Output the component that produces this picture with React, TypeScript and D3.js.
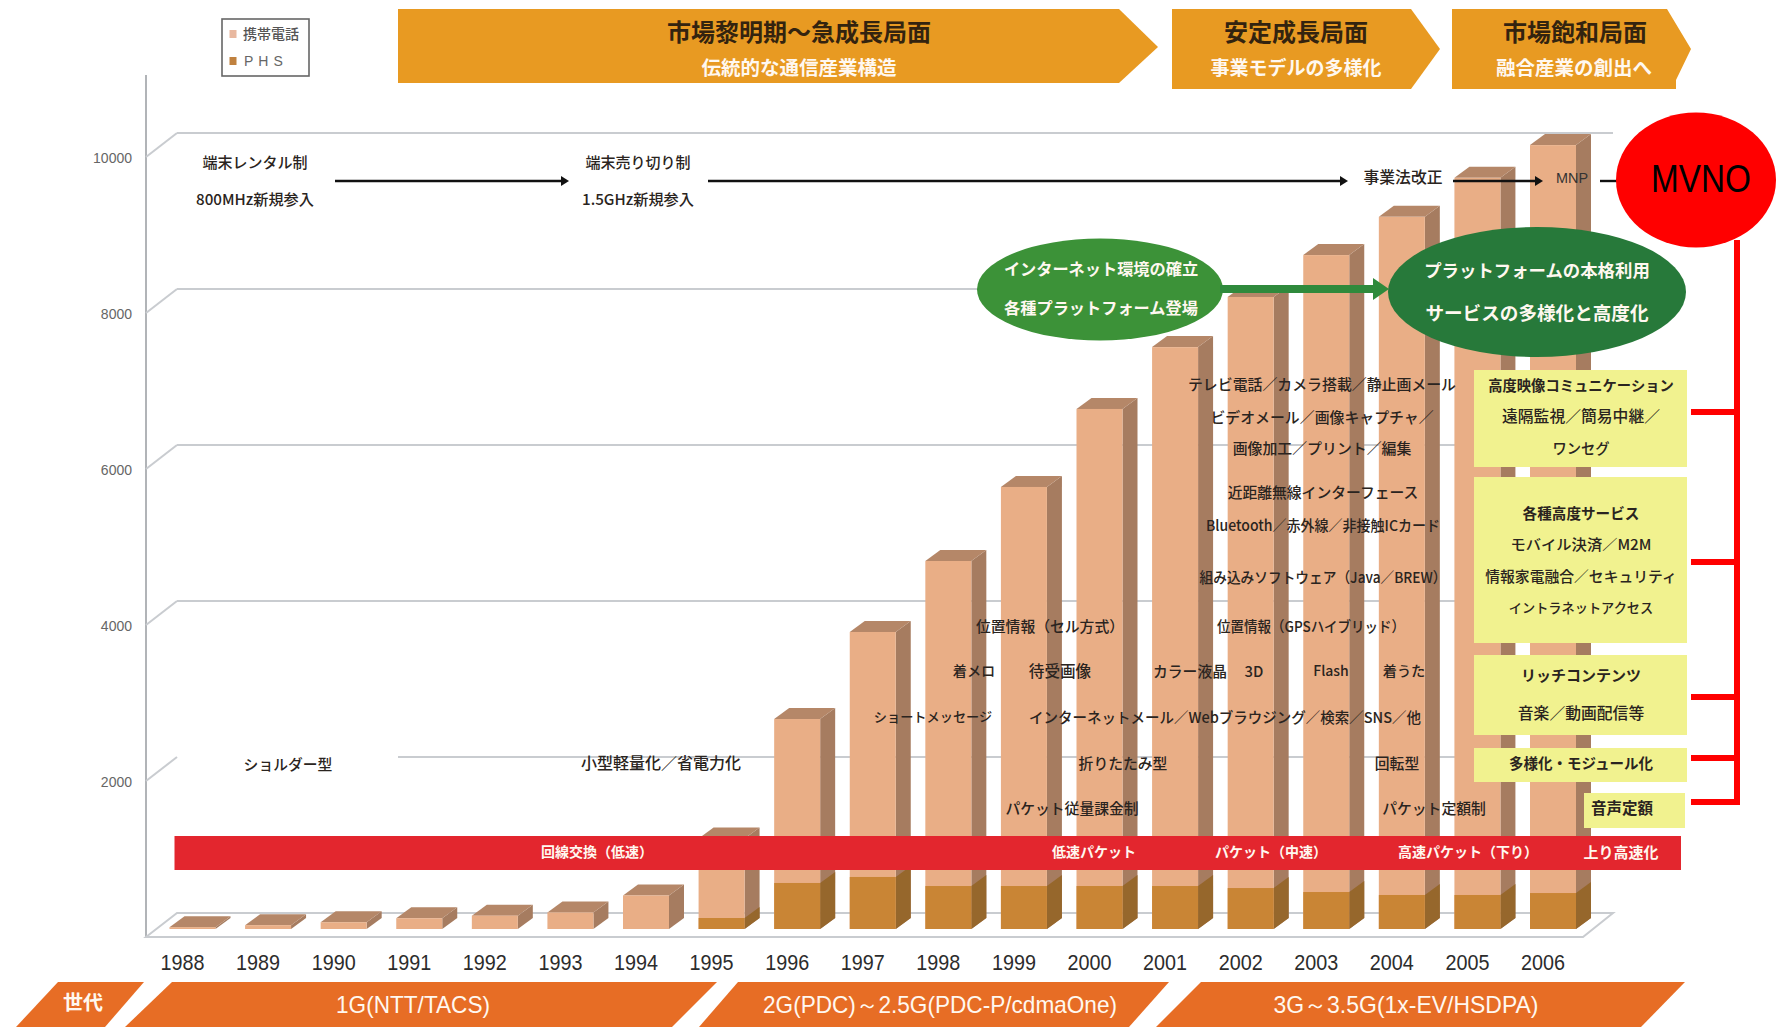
import React from "react";
import * as d3 from "d3";

// Subscribers per fiscal year, in units of 10,000 contracts
const years = [1988, 1989, 1990, 1991, 1992, 1993, 1994, 1995, 1996, 1997, 1998, 1999, 2000, 2001, 2002, 2003, 2004, 2005, 2006];
const mobileSubs = [24, 49, 87, 138, 171, 213, 430, 1160, 2692, 3808, 4718, 5667, 6667, 7460, 8103, 8640, 9130, 9630, 10050];
const phsSubs = [0, 0, 0, 0, 0, 0, 0, 141, 590, 667, 551, 551, 551, 551, 525, 474, 436, 436, 461];
const gridValues = [0, 2000, 4000, 6000, 8000, 10000];
const tickValues = [2000, 4000, 6000, 8000, 10000];

const W = 1776;
const H = 1029;
const JP = "'Noto Sans CJK JP', 'Noto Sans', sans-serif";
const LATIN = "'Liberation Sans', Arial, sans-serif";

// Oblique projection used for the 3D plot box and the bars
const floorFrontY = 937;
const floorBackY = 913;
const wallX = 146;
const backX = 177;
const backEndX = 1613;
const barBaseY = 929;
const barW = 46;
const depthX = 15;
const depthY = 11;

const xCenter = d3.scaleLinear().domain([1988, 2006]).range([192.5, 1553]);
const h = d3.scaleLinear().domain([0, 10000]).range([0, 780]);

const poly = (pts: [number, number][]) => {
  const line = d3.line();
  return line(pts) + "Z";
};

type LabelProps = {
  x: number;
  y: number;
  size?: number;
  fill?: string;
  weight?: number;
  len?: number;
  family?: string;
  children: React.ReactNode;
};

function Label({ x, y, size = 15, fill = "#2a2420", weight = 500, len, family = JP, children }: LabelProps) {
  // Noto's central baseline sits low, so CJK labels are nudged up
  const nudge = family === JP ? 1.6 : 0;
  return (
    <text
      x={x}
      y={y - nudge}
      fontFamily={family}
      fontSize={size}
      fontWeight={weight}
      fill={fill}
      textAnchor="middle"
      dominantBaseline="central"
      textLength={len}
      lengthAdjust={len ? "spacingAndGlyphs" : undefined}
    >
      {children}
    </text>
  );
}

function Bar({ year, value, front, side, top }: { year: number; value: number; front: string; side: string; top?: string }) {
  const x0 = xCenter(year) - barW / 2;
  const x1 = x0 + barW;
  const yTop = barBaseY - h(value);
  return (
    <g>
      <path
        d={poly([[x1, barBaseY], [x1 + depthX, barBaseY - depthY], [x1 + depthX, yTop - depthY], [x1, yTop]])}
        fill={side}
      />
      {top && (
        <path d={poly([[x0, yTop], [x0 + depthX, yTop - depthY], [x1 + depthX, yTop - depthY], [x1, yTop]])} fill={top} />
      )}
      <rect x={x0} y={yTop} width={barW} height={barBaseY - yTop} fill={front} />
    </g>
  );
}

function Arrow({ x1, x2, y }: { x1: number; x2: number; y: number }) {
  return (
    <g>
      <line x1={x1} x2={x2 - 6} y1={y} y2={y} stroke="#111" strokeWidth={2.4} />
      <path d={poly([[x2, y], [x2 - 8, y - 5], [x2 - 8, y + 5]])} fill="#111" />
    </g>
  );
}

export default function App() {
  const gridBack = (v: number) => floorBackY - h(v);
  const gridFront = (v: number) => floorFrontY - h(v);
  const gridColor = "#c9ccd0";
  const orange = "#e89a22";
  const genOrange = "#e76d25";
  const yellow = "#f1f28f";
  const red = "#ff0000";
  const white = "#fff8f0";

  return (
    <svg
      width={W}
      height={H}
      viewBox={`0 0 ${W} ${H}`}
      style={{ position: "absolute", left: 0, top: 0, display: "block", background: "#fff" }}
    >
      {/* Plot box: wall, floor and gridlines */}
      <line x1={wallX} x2={wallX} y1={75} y2={floorFrontY} stroke="#a9acb0" strokeWidth={1.8} />
      <path
        d={poly([[wallX, floorFrontY], [backX, floorBackY], [backEndX, floorBackY], [1583, floorFrontY]])}
        fill="none"
        stroke={gridColor}
        strokeWidth={2}
      />
      {gridValues.filter((v) => v > 0).map((v) => (
        <g key={v}>
          <line x1={wallX} y1={gridFront(v)} x2={backX} y2={gridBack(v)} stroke={gridColor} strokeWidth={2} />
          <line
            x1={v === 2000 ? 398 : backX}
            x2={backEndX}
            y1={gridBack(v)}
            y2={gridBack(v)}
            stroke={gridColor}
            strokeWidth={2}
          />
        </g>
      ))}
      {tickValues.map((v) => (
        <text
          key={v}
          x={132}
          y={gridFront(v) + 1}
          fontFamily={LATIN}
          fontSize={14}
          fill="#666"
          textAnchor="end"
          dominantBaseline="central"
        >
          {v}
        </text>
      ))}

      {/* Mobile subscribers with the PHS share drawn in front */}
      {years.map((yr, i) => (
        <g key={yr}>
          <Bar year={yr} value={mobileSubs[i]} front="#e9ae86" side="#a67c60" top="#b58768" />
          {phsSubs[i] > 0 && <Bar year={yr} value={phsSubs[i]} front="#c98535" side="#96672c" />}
          <Label x={xCenter(yr) - 10} y={962} size={22} fill="#2c2c2c" weight={400} len={44} family={LATIN}>
            {yr}
          </Label>
        </g>
      ))}

      {/* Legend */}
      <rect x={222} y={19} width={87} height={57} fill="#fff" stroke="#666" strokeWidth={1.6} />
      <rect x={229.5} y={30} width={7} height={8} fill="#e8b8a0" />
      <rect x={229.5} y={57} width={7} height={8} fill="#c0813f" />
      <text x={243} y={33} fontFamily={JP} fontSize={14} fontWeight={500} fill="#555" dominantBaseline="central">携帯電話</text>
      <text x={244} y={61} fontFamily={LATIN} fontSize={14} fill="#666" dominantBaseline="central" letterSpacing={5}>PHS</text>

      {/* Market phase banners */}
      <path d={poly([[398, 9], [1119, 9], [1158, 47], [1119, 83], [398, 83]])} fill={orange} />
      <path d={poly([[1172, 9], [1411, 9], [1440, 49], [1411, 89], [1172, 89]])} fill={orange} />
      <path d={poly([[1452, 9], [1667, 9], [1691, 49], [1676, 80], [1676, 89], [1452, 89]])} fill={orange} />
      <Label x={799} y={32} size={24} fill="#33230f" weight={700}>市場黎明期～急成長局面</Label>
      <Label x={799} y={68} size={19.5} fill={white} weight={700}>伝統的な通信産業構造</Label>
      <Label x={1296} y={32} size={24} fill="#33230f" weight={700}>安定成長局面</Label>
      <Label x={1296} y={68} size={19} fill={white} weight={700}>事業モデルの多様化</Label>
      <Label x={1575} y={32} size={24} fill="#33230f" weight={700}>市場飽和局面</Label>
      <Label x={1574} y={68} size={19.5} fill={white} weight={700}>融合産業の創出へ</Label>

      {/* Regulation timeline */}
      <Label x={255} y={163}>端末レンタル制</Label>
      <Label x={255} y={200} len={118}>800MHz新規参入</Label>
      <Label x={638} y={163}>端末売り切り制</Label>
      <Label x={638} y={200} len={112}>1.5GHz新規参入</Label>
      <Arrow x1={335} x2={569} y={181} />
      <Arrow x1={708} x2={1348} y={181} />
      <Arrow x1={1453} x2={1543} y={181} />
      <line x1={1600} x2={1620} y1={181} y2={181} stroke="#111" strokeWidth={2.4} />
      <Label x={1403} y={178} size={15.8}>事業法改正</Label>
      <Label x={1572} y={178} size={14} fill="#333" family={LATIN} len={32}>MNP</Label>

      {/* Service annotations laid over the bars */}
      <Label x={1322} y={385} size={14.9}>テレビ電話／カメラ搭載／静止画メール</Label>
      <Label x={1322} y={418} size={14.9}>ビデオメール／画像キャプチャ／</Label>
      <Label x={1322} y={449} size={14.9}>画像加工／プリント／編集</Label>
      <Label x={1323} y={493} size={14.8}>近距離無線インターフェース</Label>
      <Label x={1323} y={526} size={14.8} len={234}>Bluetooth／赤外線／非接触ICカード</Label>
      <Label x={1323} y={578} size={14.8} len={247}>組み込みソフトウェア（Java／BREW）</Label>
      <Label x={1311} y={627} size={14.8} len={188}>位置情報（GPSハイブリッド）</Label>
      <Label x={1050} y={627} size={14.8}>位置情報（セル方式）</Label>
      <Label x={974} y={672} size={14.2}>着メロ</Label>
      <Label x={1060} y={672} size={15.6}>待受画像</Label>
      <Label x={1190} y={672} size={14.8}>カラー液晶</Label>
      <Label x={1254} y={672} size={14.8}>3D</Label>
      <Label x={1331} y={672} size={14}>Flash</Label>
      <Label x={1404} y={672} size={14.2}>着うた</Label>
      <Label x={933} y={718} size={13.2}>ショートメッセージ</Label>
      <Label x={1225} y={718} size={14.8} len={392}>インターネットメール／Webブラウジング／検索／SNS／他</Label>
      <Label x={288} y={765} size={14.8}>ショルダー型</Label>
      <Label x={661} y={764} size={16}>小型軽量化／省電力化</Label>
      <Label x={1123} y={764} size={14.8}>折りたたみ型</Label>
      <Label x={1397} y={764} size={14.8}>回転型</Label>
      <Label x={1072} y={809} size={14.8}>パケット従量課金制</Label>
      <Label x={1434} y={809} size={14.8}>パケット定額制</Label>

      {/* Transmission speed band */}
      <rect x={174.5} y={836} width={1506.5} height={34} fill="#e3262e" />
      <Label x={597} y={853} size={14} fill={white} weight={700}>回線交換（低速）</Label>
      <Label x={1094} y={853} size={14} fill={white} weight={700}>低速パケット</Label>
      <Label x={1271} y={853} size={14} fill={white} weight={700}>パケット（中速）</Label>
      <Label x={1468} y={853} size={14} fill={white} weight={700}>高速パケット（下り）</Label>
      <Label x={1621} y={853} size={15} fill={white} weight={700}>上り高速化</Label>

      {/* Platform ellipses */}
      <ellipse cx={1100} cy={289.5} rx={123} ry={51} fill="#3c9238" />
      <rect x={1220} y={285} width={156} height={8} fill="#2f8a3c" />
      <path d={poly([[1389, 289], [1373, 278], [1373, 300]])} fill="#2f8a3c" />
      <ellipse cx={1537} cy={292} rx={149} ry={65} fill="#27793a" />
      <Label x={1101} y={270} size={16.2} fill={white} weight={700}>インターネット環境の確立</Label>
      <Label x={1101} y={309} size={16.2} fill={white} weight={700}>各種プラットフォーム登場</Label>
      <Label x={1537} y={271} size={17.4} fill={white} weight={700}>プラットフォームの本格利用</Label>
      <Label x={1537} y={313} size={18.6} fill={white} weight={700}>サービスの多様化と高度化</Label>

      {/* Service layer boxes */}
      <rect x={1474} y={370} width={213} height={97} fill={yellow} />
      <rect x={1474} y={477} width={213} height={166} fill={yellow} />
      <rect x={1474} y={655} width={213} height={80} fill={yellow} />
      <rect x={1474} y={748} width={213} height={34} fill={yellow} />
      <rect x={1584} y={793} width={101} height={35} fill={yellow} />
      <Label x={1581} y={386} size={14.3} weight={700}>高度映像コミュニケーション</Label>
      <Label x={1581} y={417} size={15.8}>遠隔監視／簡易中継／</Label>
      <Label x={1581} y={449} size={14.3}>ワンセグ</Label>
      <Label x={1581} y={514} size={14.6} weight={700}>各種高度サービス</Label>
      <Label x={1581} y={545} len={141} size={14.3}>モバイル決済／M2M</Label>
      <Label x={1581} y={577} size={14.8}>情報家電融合／セキュリティ</Label>
      <Label x={1581} y={609} size={13.2}>イントラネットアクセス</Label>
      <Label x={1581} y={676} size={15} weight={700}>リッチコンテンツ</Label>
      <Label x={1581} y={714} size={15.8}>音楽／動画配信等</Label>
      <Label x={1581} y={764} size={14.5} weight={700}>多様化・モジュール化</Label>
      <Label x={1622} y={809} size={15.5} weight={700}>音声定額</Label>

      {/* MVNO bracket */}
      <path
        d={[412, 562, 697, 758, 802].map((y) => `M1691,${y}H1737`).join("") + "M1737,240V805"}
        fill="none"
        stroke={red}
        strokeWidth={6}
      />
      <ellipse cx={1696} cy={180} rx={80} ry={67.5} fill={red} />
      <Label x={1701} y={178} size={39} fill="#000" weight={400} len={100} family={LATIN}>MVNO</Label>

      {/* Network generation ribbon */}
      <path d={poly([[58, 982], [144, 982], [105, 1027], [16, 1027]])} fill={genOrange} />
      <path d={poly([[172, 982], [717, 982], [672, 1027], [125, 1027]])} fill={genOrange} />
      <path d={poly([[738, 982], [1169, 982], [1129, 1027], [699, 1027]])} fill={genOrange} />
      <path d={poly([[1201, 982], [1685, 982], [1641, 1027], [1156, 1027]])} fill={genOrange} />
      <Label x={83} y={1003} size={20} fill={white} weight={700}>世代</Label>
      <Label x={413} y={1004} size={24} fill={white} weight={500} len={154} family={LATIN}>1G(NTT/TACS)</Label>
      <Label x={940} y={1004} size={24} fill={white} weight={500} len={354} family={LATIN}>2G(PDC)～2.5G(PDC-P/cdmaOne)</Label>
      <Label x={1406} y={1004} size={24} fill={white} weight={500} len={265} family={LATIN}>3G～3.5G(1x-EV/HSDPA)</Label>
    </svg>
  );
}
